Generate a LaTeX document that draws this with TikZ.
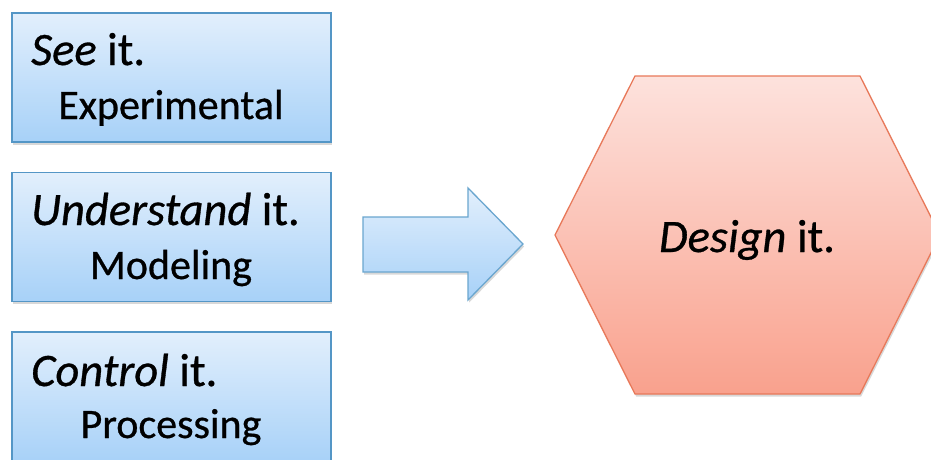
\documentclass[tikz,border=0pt]{standalone}
\usepackage{fontspec}
\setmainfont{Carlito}[FakeBold=0.7]
\usetikzlibrary{shadows}
\definecolor{boxtop}{HTML}{E2EFFC}
\definecolor{boxbot}{HTML}{A7D1F8}
\definecolor{boxline}{HTML}{5496C6}
\definecolor{arrline}{HTML}{6AA6CF}
\definecolor{hextop}{HTML}{FDE2DD}
\definecolor{hexbot}{HTML}{F9A18D}
\definecolor{hexline}{HTML}{E8795A}
\tikzset{
  shadowed/.style={drop shadow={shadow xshift=1.2pt, shadow yshift=-2.5pt, opacity=0.3}},
  box/.style={draw=boxline, line width=1.3pt, top color=boxtop, bottom color=boxbot,
    minimum width=319pt, minimum height=129pt, inner sep=0pt, shadowed},
  bigtxt/.style={font=\fontsize{46.5}{50}\selectfont, inner sep=0pt},
  smalltxt/.style={font=\fontsize{42}{46}\selectfont, inner sep=0pt, anchor=base},
  hexshape/.style={draw=hexline, line width=1.3pt, top color=hextop, bottom color=hexbot, shadowed},
  arrshape/.style={draw=arrline, line width=1.3pt, top color=boxtop, bottom color=boxbot, shadowed}
}
\begin{document}
\begin{tikzpicture}[x=1pt,y=1pt]
\useasboundingbox (0,0) rectangle (931,-459);
\fill[white] (0,0) rectangle (931,-459);
\clip (0,0) rectangle (931,-459);
% boxes
\node[box] (b1) at (171.5,-77.5) {};
\node[box] (b2) at (171.5,-237) {};
\node[box, minimum height=131pt] (b3) at (171.5,-397.5) {};
% texts
\node[bigtxt, anchor=base west] (t1) at (31,-65) {\textit{See} it.};
\node[smalltxt] (s1) at (171,-119) {Experimental};
\node[bigtxt, anchor=base west] (t2) at (31,-225) {\textit{Understand} it.};
\node[smalltxt] (s2) at (171,-279) {Modeling};
\node[bigtxt, anchor=base west] (t3) at (31,-386) {\textit{Control} it.};
\node[smalltxt] (s3) at (171,-438) {Processing};
% block arrow
\coordinate (a1) at (363,-217);
\coordinate (a2) at (468,-217);
\coordinate (a3) at (468,-188);
\coordinate (a4) at (523,-244);
\coordinate (a5) at (468,-300);
\coordinate (a6) at (468,-272);
\coordinate (a7) at (363,-272);
\path[arrshape] (a1) -- (a2) -- (a3) -- (a4) -- (a5) -- (a6) -- (a7) -- cycle;
% hexagon
\coordinate (h1) at (635,-76);
\coordinate (h2) at (860,-76);
\coordinate (h3) at (940,-235);
\coordinate (h4) at (860,-394);
\coordinate (h5) at (635,-394);
\coordinate (h6) at (555,-235);
\path[hexshape] (h1) -- (h2) -- (h3) -- (h4) -- (h5) -- (h6) -- cycle;
\node[bigtxt] (d) at (747,-240) {\textit{Design} it.};
\end{tikzpicture}
\end{document}
